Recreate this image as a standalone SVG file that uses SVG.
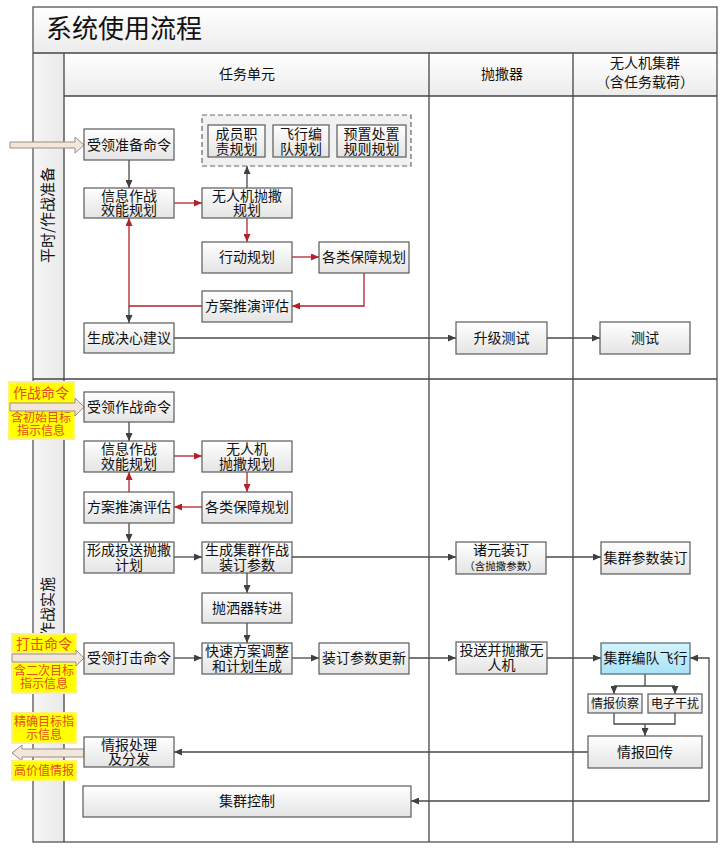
<svg xmlns="http://www.w3.org/2000/svg" width="724" height="848" viewBox="0 0 724 848">
<defs>
<linearGradient id="gBox" x1="0" y1="0" x2="0" y2="1"><stop offset="0" stop-color="#ffffff"/><stop offset="1" stop-color="#e4e4e4"/></linearGradient>
<linearGradient id="gHead" x1="0" y1="0" x2="0" y2="1"><stop offset="0" stop-color="#ffffff"/><stop offset="1" stop-color="#ececec"/></linearGradient>
<linearGradient id="gCol" x1="0" y1="0" x2="1" y2="0"><stop offset="0" stop-color="#f6f6f6"/><stop offset="1" stop-color="#e9e9e9"/></linearGradient>
<linearGradient id="gCyan" x1="0" y1="0" x2="0" y2="1"><stop offset="0" stop-color="#d4f3fd"/><stop offset="1" stop-color="#a9e3f6"/></linearGradient>
<marker id="ad" markerWidth="8" markerHeight="7" refX="8" refY="3.5" orient="auto-start-reverse" markerUnits="userSpaceOnUse"><path d="M0,0 L8,3.5 L0,7 z" fill="#404040"/></marker>
<marker id="ar" markerWidth="8" markerHeight="7" refX="8" refY="3.5" orient="auto" markerUnits="userSpaceOnUse"><path d="M0,0 L8,3.5 L0,7 z" fill="#b3222a"/></marker>
</defs>
<style>
text{font-family:"Noto Sans CJK SC","Noto Sans",sans-serif;fill:#111;text-anchor:middle;font-size:14px}
.b{fill:url(#gBox);stroke:#5a5a5a;stroke-width:1.2}
.ln{stroke:#454545;stroke-width:1.3;fill:none}
.c{stroke:#4a4a4a;stroke-width:1.3;fill:none;marker-end:url(#ad)}
.cn{stroke:#4a4a4a;stroke-width:1.3;fill:none}
.r{stroke:#b3222a;stroke-width:1.3;fill:none;marker-end:url(#ar)}
.rn{stroke:#b3222a;stroke-width:1.3;fill:none}
.y{fill:#ffff00;stroke:#fff27a;stroke-width:2}
.yt{fill:#e2501c;font-size:12px}
.big{fill:#f3e6da;stroke:#9a8f88;stroke-width:1}
.s{font-size:12px}
</style>
<rect x="0" y="0" width="724" height="848" fill="#ffffff"/>
<g id="frame">
<rect x="33" y="7" width="684" height="46" fill="url(#gHead)"/>
<rect x="33" y="53" width="31" height="789" fill="url(#gCol)"/>
<rect x="64" y="53" width="653" height="43" fill="url(#gHead)"/>
<rect x="33" y="7" width="684" height="835" fill="none" stroke="#555" stroke-width="1.3"/>
<line class="ln" x1="33" y1="53" x2="717" y2="53"/>
<line class="ln" x1="64" y1="96" x2="717" y2="96"/>
<line class="ln" x1="64" y1="53" x2="64" y2="842"/>
<line class="ln" x1="429" y1="53" x2="429" y2="842"/>
<line class="ln" x1="573" y1="53" x2="573" y2="842"/>
<line class="ln" x1="33" y1="379" x2="717" y2="379"/>
<text x="46" y="38" style="font-size:26px;text-anchor:start">系统使用流程</text>
<text x="247" y="79">任务单元</text>
<text x="502" y="79">抛撒器</text>
<text x="645" y="68">无人机集群</text>
<text x="645" y="87">（含任务载荷）</text>
<text transform="translate(53,215) rotate(-90)" style="font-size:15px">平时/作战准备</text>
<text transform="translate(53,607) rotate(-90)" style="font-size:15px">作战实施</text>
</g>
<g id="connectors">
<path class="c" d="M129,160 V188"/>
<path class="c" d="M247,188 V166"/>
<path class="c" d="M129,306 V323"/>
<path class="c" d="M174,338 H456"/>
<path class="c" d="M547,338 H600"/>
<path class="r" d="M174,203 H202"/>
<path class="r" d="M247,218 V242"/>
<path class="r" d="M292,257 H319"/>
<path class="r" d="M364,273 V306 H292"/>
<path class="r" d="M202,306 H129 V218"/>
<path class="c" d="M129,422 V441"/>
<path class="r" d="M174,456 H202"/>
<path class="r" d="M247,472 V492"/>
<path class="r" d="M202,507 H174"/>
<path class="r" d="M129,492 V472"/>
<path class="c" d="M129,523 V542"/>
<path class="c" d="M174,557 H202"/>
<path class="c" d="M292,557 H456"/>
<path class="c" d="M546,557 H601"/>
<path class="c" d="M247,573 V593"/>
<path class="c" d="M247,623 V643"/>
<path class="c" d="M174,658 H202"/>
<path class="c" d="M292,658 H319"/>
<path class="c" d="M409,658 H456"/>
<path class="c" d="M547,658 H601"/>
<path class="cn" d="M645,674 V686 M614,686 H675"/>
<path class="c" d="M614,686 V694"/>
<path class="c" d="M675,686 V694"/>
<path class="cn" d="M614,713 V724 H675 V713"/>
<path class="c" d="M645,724 V736"/>
<path class="c" d="M588,752 H174"/>
<path class="c" d="M690,658 H709 V801 H411" style="marker-start:url(#ad)"/>
</g>
<g id="labels">
<rect class="y" x="9" y="382" width="65" height="57"/>
<text class="yt" x="41" y="398" style="font-size:14px">作战命令</text>
<text class="yt" x="41" y="422">含初始目标</text>
<text class="yt" x="41" y="435">指示信息</text>
<path class="big" d="M10,403 H75 V398 L84,407 L75,416 V411 H10 Z"/>
<rect class="y" x="12" y="634" width="64" height="19"/>
<text class="yt" x="44" y="649" style="font-size:14px">打击命令</text>
<rect class="y" x="12" y="663" width="64" height="30"/>
<text class="yt" x="44" y="675">含二次目标</text>
<text class="yt" x="44" y="688">指示信息</text>
<path class="big" d="M12,654 H76 V650 L84,658 L76,666 V662 H12 Z"/>
<rect class="y" x="12" y="713" width="64" height="30"/>
<text class="yt" x="44" y="726">精确目标指</text>
<text class="yt" x="44" y="739">示信息</text>
<path class="big" d="M84,749 H22 V745 L12,753 L22,761 V757 H84 Z"/>
<rect class="y" x="12" y="761" width="64" height="19"/>
<text class="yt" x="44" y="775">高价值情报</text>
<path class="big" d="M10,142 H75 V137 L84,145 L75,153 V148 H10 Z"/>
</g>
<g id="n1"><rect class="b" x="84" y="129" width="90" height="31"/><text x="129" y="150">受领准备命令</text></g>
<g id="grp"><rect x="202" y="115" width="209" height="51" fill="#f1f1f1" stroke="#666" stroke-width="1.2" stroke-dasharray="5,3"/></g>
<g id="n2"><rect class="b" x="208" y="125" width="57" height="32"/><text x="236.5" y="139">成员职</text><text x="236.5" y="154">责规划</text></g>
<g id="n3"><rect class="b" x="273" y="125" width="56" height="32"/><text x="301" y="139">飞行编</text><text x="301" y="154">队规划</text></g>
<g id="n4"><rect class="b" x="337" y="125" width="69" height="32"/><text x="371.5" y="139">预置处置</text><text x="371.5" y="154">规则规划</text></g>
<g id="n5"><rect class="b" x="84" y="188" width="90" height="30"/><text x="129" y="201">信息作战</text><text x="129" y="215">效能规划</text></g>
<g id="n6"><rect class="b" x="202" y="188" width="90" height="30"/><text x="247" y="201">无人机抛撒</text><text x="247" y="215">规划</text></g>
<g id="n7"><rect class="b" x="202" y="242" width="90" height="31"/><text x="247" y="262">行动规划</text></g>
<g id="n8"><rect class="b" x="319" y="242" width="90" height="31"/><text x="364" y="262">各类保障规划</text></g>
<g id="n9"><rect class="b" x="202" y="291" width="90" height="31"/><text x="247" y="311">方案推演评估</text></g>
<g id="n10"><rect class="b" x="84" y="323" width="90" height="30"/><text x="129" y="343">生成决心建议</text></g>
<g id="n11"><rect class="b" x="456" y="322" width="91" height="32"/><text x="501.5" y="343">升级测试</text></g>
<g id="n12"><rect class="b" x="600" y="322" width="90" height="32"/><text x="645" y="343">测试</text></g>
<g id="m1"><rect class="b" x="84" y="392" width="90" height="30"/><text x="129" y="412">受领作战命令</text></g>
<g id="m2"><rect class="b" x="84" y="441" width="90" height="31"/><text x="129" y="454">信息作战</text><text x="129" y="469">效能规划</text></g>
<g id="m3"><rect class="b" x="202" y="441" width="90" height="31"/><text x="247" y="454">无人机</text><text x="247" y="469">抛撒规划</text></g>
<g id="m4"><rect class="b" x="84" y="492" width="90" height="31"/><text x="129" y="512">方案推演评估</text></g>
<g id="m5"><rect class="b" x="202" y="492" width="90" height="31"/><text x="247" y="512">各类保障规划</text></g>
<g id="m6"><rect class="b" x="84" y="542" width="90" height="31"/><text x="129" y="555">形成投送抛撒</text><text x="129" y="570">计划</text></g>
<g id="m7"><rect class="b" x="202" y="542" width="90" height="31"/><text x="247" y="555">生成集群作战</text><text x="247" y="570">装订参数</text></g>
<g id="m8"><rect class="b" x="456" y="542" width="90" height="32"/><text x="501" y="555">诸元装订</text><text x="501" y="570" style="font-size:10.5px">（含抛撒参数）</text></g>
<g id="m9"><rect class="b" x="601" y="542" width="89" height="32"/><text x="645.5" y="563">集群参数装订</text></g>
<g id="m10"><rect class="b" x="202" y="593" width="90" height="30"/><text x="247" y="613">抛洒器转进</text></g>
<g id="m11"><rect class="b" x="84" y="643" width="90" height="31"/><text x="129" y="663">受领打击命令</text></g>
<g id="m12"><rect class="b" x="202" y="643" width="90" height="31"/><text x="247" y="656">快速方案调整</text><text x="247" y="671">和计划生成</text></g>
<g id="m13"><rect class="b" x="319" y="643" width="90" height="31"/><text x="364" y="663">装订参数更新</text></g>
<g id="m14"><rect class="b" x="456" y="642" width="91" height="32"/><text x="501.5" y="655">投送并抛撒无</text><text x="501.5" y="670">人机</text></g>
<g id="m15"><rect x="601" y="643" width="89" height="31" fill="url(#gCyan)" stroke="#4a6a78" stroke-width="1.2"/><text x="645.5" y="663">集群编队飞行</text></g>
<g id="m16"><rect class="b" x="588" y="694" width="54" height="19"/><text class="s" x="615" y="708">情报侦察</text></g>
<g id="m17"><rect class="b" x="648" y="694" width="54" height="19"/><text class="s" x="675" y="708">电子干扰</text></g>
<g id="m18"><rect class="b" x="588" y="736" width="114" height="32"/><text x="645" y="757">情报回传</text></g>
<g id="m19"><rect class="b" x="84" y="737" width="90" height="30"/><text x="129" y="750">情报处理</text><text x="129" y="764">及分发</text></g>
<g id="m20"><rect class="b" x="83" y="786" width="328" height="31"/><text x="247" y="806">集群控制</text></g>
</svg>
